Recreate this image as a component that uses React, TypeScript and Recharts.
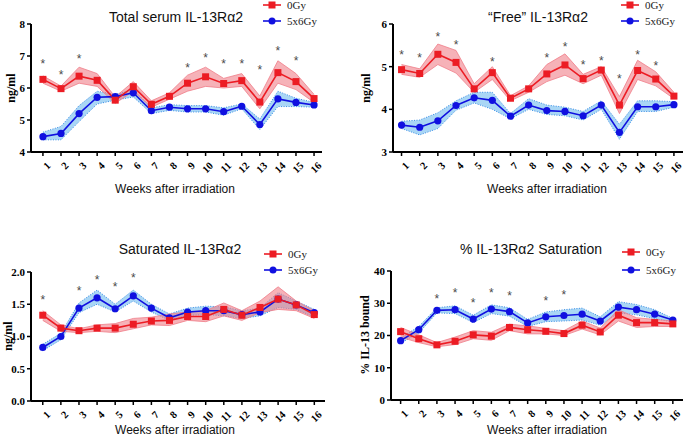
import React from 'react';
import { ComposedChart, Line, Area, Scatter, XAxis, YAxis } from 'recharts';

const weeks = [1, 2, 3, 4, 5, 6, 7, 8, 9, 10, 11, 12, 13, 14, 15, 16];
const seriesNames = ['0Gy', '5x6Gy'];

// Panel 1: Total serum IL-13Rα2
const totalRed = [6.27, 5.98, 6.37, 6.24, 5.62, 6.04, 5.49, 5.74, 6.15, 6.35, 6.14, 6.23, 5.56, 6.48, 6.2, 5.67];
const totalRedLo = [6.15, 5.9, 6.15, 6.05, 5.52, 5.9, 5.4, 5.65, 5.9, 6.05, 6.0, 6.05, 5.35, 6.15, 5.95, 5.55];
const totalRedHi = [6.38, 6.06, 6.65, 6.45, 5.72, 6.2, 5.6, 5.85, 6.4, 6.65, 6.3, 6.45, 5.75, 6.85, 6.45, 5.8];
const totalBlue = [4.48, 4.58, 5.2, 5.71, 5.73, 5.85, 5.29, 5.4, 5.35, 5.35, 5.26, 5.43, 4.86, 5.66, 5.55, 5.47];
const totalBlueLo = [4.38, 4.38, 4.95, 5.5, 5.62, 5.72, 5.2, 5.3, 5.25, 5.25, 5.15, 5.35, 4.7, 5.42, 5.42, 5.4];
const totalBlueHi = [4.62, 4.8, 5.45, 5.9, 5.8, 5.95, 5.38, 5.48, 5.45, 5.45, 5.38, 5.5, 5.03, 5.9, 5.68, 5.55];
const totalStars = [6.82, 6.5, 7.0, null, null, null, null, null, 6.7, 7.03, 6.82, 6.82, 6.65, 7.23, 6.93, null];
const totalTicks = [4, 5, 6, 7, 8];

// Panel 2: "Free" IL-13Rα2
const freeRed = [4.93, 4.84, 5.29, 5.1, 4.48, 4.86, 4.26, 4.48, 4.83, 5.04, 4.72, 4.92, 4.1, 4.91, 4.71, 4.31];
const freeRedLo = [4.82, 4.75, 5.05, 4.85, 4.4, 4.7, 4.2, 4.4, 4.65, 4.8, 4.6, 4.8, 3.9, 4.7, 4.55, 4.25];
const freeRedHi = [5.05, 4.95, 5.53, 5.38, 4.6, 5.0, 4.32, 4.55, 5.05, 5.3, 4.82, 5.0, 4.3, 5.15, 4.88, 4.4];
const freeBlue = [3.63, 3.58, 3.73, 4.09, 4.27, 4.21, 3.84, 4.1, 3.97, 3.95, 3.85, 4.1, 3.46, 4.06, 4.06, 4.11];
const freeBlueLo = [3.55, 3.4, 3.55, 3.98, 4.15, 4.0, 3.78, 4.0, 3.88, 3.85, 3.75, 4.0, 3.3, 3.95, 3.95, 4.05];
const freeBlueHi = [3.72, 3.75, 3.92, 4.2, 4.4, 4.4, 3.9, 4.25, 4.1, 4.05, 3.95, 4.2, 3.65, 4.2, 4.2, 4.18];
const freeStars = [5.34, 5.27, 5.76, 5.56, null, 5.16, null, null, 5.27, 5.51, 5.1, 5.2, 4.78, 5.34, 5.08, null];
const freeTicks = [3, 4, 5, 6];

// Panel 3: Saturated IL-13Rα2
const satRed = [1.33, 1.13, 1.09, 1.13, 1.13, 1.19, 1.24, 1.25, 1.31, 1.31, 1.42, 1.33, 1.45, 1.58, 1.49, 1.34];
const satRedLo = [1.25, 1.08, 1.06, 1.08, 1.06, 1.12, 1.18, 1.17, 1.25, 1.23, 1.32, 1.25, 1.37, 1.42, 1.4, 1.28];
const satRedHi = [1.4, 1.18, 1.12, 1.18, 1.2, 1.28, 1.3, 1.35, 1.38, 1.4, 1.52, 1.4, 1.55, 1.77, 1.55, 1.4];
const satBlue = [0.83, 1.0, 1.44, 1.6, 1.43, 1.63, 1.44, 1.29, 1.38, 1.4, 1.4, 1.34, 1.38, 1.58, 1.49, 1.37];
const satBlueLo = [0.78, 0.95, 1.37, 1.5, 1.38, 1.55, 1.38, 1.25, 1.33, 1.34, 1.32, 1.28, 1.32, 1.45, 1.42, 1.3];
const satBlueHi = [0.88, 1.05, 1.52, 1.72, 1.5, 1.72, 1.5, 1.35, 1.44, 1.47, 1.46, 1.4, 1.44, 1.68, 1.55, 1.42];
const satStars = [1.6, null, 1.74, 1.92, 1.8, 1.95, null, null, null, null, null, null, null, null, null, null];
const satTicks = [0, 0.5, 1.0, 1.5, 2.0];

// Panel 4: % IL-13Rα2 Saturation
const pctRed = [21.2, 19.0, 17.1, 18.2, 20.2, 19.8, 22.5, 21.8, 21.3, 20.6, 23.2, 21.1, 26.3, 24.0, 24.0, 23.6];
const pctRedLo = [19.5, 17.8, 16.5, 17.2, 19.0, 18.5, 21.5, 20.5, 20.5, 20.0, 22.0, 20.2, 24.5, 22.5, 22.8, 22.8];
const pctRedHi = [22.5, 20.2, 17.8, 19.5, 21.5, 21.0, 23.5, 23.0, 22.2, 21.5, 24.5, 22.3, 28.0, 25.5, 25.0, 24.5];
const pctBlue = [18.4, 21.8, 27.8, 28.0, 25.1, 28.2, 27.4, 23.9, 25.8, 26.2, 26.6, 24.5, 28.8, 28.0, 26.6, 24.8];
const pctBlueLo = [17.6, 20.8, 27.0, 26.8, 24.0, 26.8, 26.0, 22.8, 24.3, 24.5, 24.8, 23.2, 27.0, 26.4, 25.2, 24.2];
const pctBlueHi = [19.2, 22.8, 28.6, 29.2, 26.3, 29.5, 28.6, 25.0, 27.3, 28.0, 28.5, 25.8, 30.5, 29.6, 28.0, 25.3];
const pctStars = [null, null, 32.2, 34.0, 30.9, 34.0, 33.0, null, 31.4, 33.2, null, null, null, null, null, null];
const pctTicks = [0, 10, 20, 30, 40];

const RED = '#ec1c24';
const BLUE = '#1010e0';
const STAR = '#4a4a4a';
const SERIF = '"Liberation Serif", "Times New Roman", serif';
const SANS = '"Liberation Sans", Arial, sans-serif';

function buildRows(r, rLo, rHi, b, bLo, bHi, stars) {
  return weeks.map((w, i) => ({
    week: w,
    r: r[i],
    rBand: [rLo[i], rHi[i]],
    b: b[i],
    bBand: [bLo[i], bHi[i]],
    star: stars[i],
  }));
}

const XTick = (props: any) => {
  const { x, y, payload } = props;
  return (
    <g transform={`translate(${x + 3},${y + 3})`}>
      <text
        textAnchor="end"
        transform="rotate(-45)"
        dy="0.7em"
        fontFamily={SERIF}
        fontWeight="bold"
        fontSize={10.5}
        fill="#000"
      >
        {payload.value}
      </text>
    </g>
  );
};

const SquareDot = (props: any) => {
  const { cx, cy } = props;
  if (cx == null || cy == null) return null;
  return <rect x={cx - 3.5} y={cy - 3.5} width={7} height={7} fill={RED} />;
};

const CircleDot = (props: any) => {
  const { cx, cy } = props;
  if (cx == null || cy == null) return null;
  return <circle cx={cx} cy={cy} r={3.6} fill={BLUE} />;
};

const StarShape = (props: any) => {
  const { cx, cy, payload } = props;
  if (!payload || payload.star == null || cx == null || cy == null || isNaN(cy)) return null;
  return (
    <text x={cx} y={cy + 6.5} textAnchor="middle" fontFamily={SANS} fontSize={12} fill={STAR} style={{ fill: STAR }} stroke="none">
      *
    </text>
  );
};

function Panel(props: any) {
  const {
    left, top, width, height, margin, yWidth, xHeight, domainX, domainY, ticks, fmt, rows,
    title, titleX, titleY, yLabel, yLabelX, yLabelY, xLabelX, xLabelY, legX, legY1, legY2,
  } = props;
  return (
    <div style={{ position: 'absolute', left, top, width, height }}>
      <ComposedChart width={width} height={height} data={rows} margin={margin}>
        <XAxis
          dataKey="week"
          type="number"
          domain={domainX}
          ticks={weeks}
          allowDataOverflow
          interval={0}
          height={xHeight}
          tick={<XTick />}
          tickSize={4}
          axisLine={{ stroke: '#000', strokeWidth: 2 }}
          tickLine={{ stroke: '#000', strokeWidth: 1.5 }}
        />
        <YAxis
          type="number"
          domain={domainY}
          ticks={ticks}
          width={yWidth}
          tickSize={4}
          tickFormatter={fmt}
          allowDataOverflow
          axisLine={{ stroke: '#000', strokeWidth: 2 }}
          tickLine={{ stroke: '#000', strokeWidth: 1.5 }}
          tick={{ fontFamily: SERIF, fontWeight: 'bold', fontSize: 11, fill: '#000' }}
        />
        <Area
          dataKey="bBand"
          type="linear"
          fill="#8cc8f2"
          fillOpacity={0.75}
          stroke="#3a8ee6"
          strokeWidth={1}
          strokeDasharray="1 1.5"
          isAnimationActive={false}
        />
        <Area
          dataKey="rBand"
          type="linear"
          fill="#f07e89"
          fillOpacity={0.6}
          stroke="#f07e89"
          strokeWidth={0.8}
          isAnimationActive={false}
        />
        <Line dataKey="b" type="linear" stroke={BLUE} strokeWidth={1.6} dot={<CircleDot />} isAnimationActive={false} />
        <Line dataKey="r" type="linear" stroke={RED} strokeWidth={1.6} dot={<SquareDot />} isAnimationActive={false} />
        <Scatter dataKey="star" fill={STAR} shape={<StarShape />} isAnimationActive={false} />
      </ComposedChart>
      <div style={{ position: 'absolute', left: titleX - 150, top: titleY - 10, width: 300, textAlign: 'center', fontFamily: SANS, fontSize: 14, lineHeight: '20px', color: '#111', whiteSpace: 'nowrap' }}>{title}</div>
      <div style={{ position: 'absolute', left: xLabelX - 150, top: xLabelY - 9, width: 300, textAlign: 'center', fontFamily: SANS, fontSize: 12, lineHeight: '18px', color: '#111', whiteSpace: 'nowrap' }}>Weeks after irradiation</div>
      <div style={{ position: 'absolute', left: yLabelX - 100, top: yLabelY - 8, width: 200, height: 16, textAlign: 'center', fontFamily: SERIF, fontWeight: 'bold', fontSize: 12, lineHeight: '16px', transform: 'rotate(-90deg)', color: '#000', whiteSpace: 'nowrap' }}>{yLabel}</div>
      <svg style={{ position: 'absolute', left: legX, top: legY1 - 6, overflow: 'visible' }} width={60} height={30}>
        <line x1={0} y1={6} x2={18} y2={6} stroke={RED} strokeWidth={1.6} />
        <rect x={5.5} y={2.5} width={7} height={7} fill={RED} />
        <text x={24} y={10} fontFamily={SERIF} fontSize={11} fill="#222">{seriesNames[0]}</text>
        <line x1={0} y1={6 + legY2 - legY1} x2={18} y2={6 + legY2 - legY1} stroke={BLUE} strokeWidth={1.6} />
        <circle cx={9} cy={6 + legY2 - legY1} r={3.5} fill={BLUE} />
        <text x={24} y={10 + legY2 - legY1} fontFamily={SERIF} fontSize={11} fill="#222">{seriesNames[1]}</text>
      </svg>
    </div>
  );
}

export default function App() {
  const rows1 = buildRows(totalRed, totalRedLo, totalRedHi, totalBlue, totalBlueLo, totalBlueHi, totalStars);
  const rows2 = buildRows(freeRed, freeRedLo, freeRedHi, freeBlue, freeBlueLo, freeBlueHi, freeStars);
  const rows3 = buildRows(satRed, satRedLo, satRedHi, satBlue, satBlueLo, satBlueHi, satStars);
  const rows4 = buildRows(pctRed, pctRedLo, pctRedHi, pctBlue, pctBlueLo, pctBlueHi, pctStars);
  return (
    <div style={{ position: 'absolute', left: 0, top: 0, width: 685, height: 436, background: '#fff', overflow: 'hidden' }}>
      <Panel
        left={0} top={0} width={342} height={218}
        margin={{ top: 24, right: 20, left: 0, bottom: 0 }}
        yWidth={31} xHeight={66}
        domainX={[0.34, 16.44]} domainY={[4, 8]} ticks={totalTicks} fmt={(v) => String(v)}
        rows={rows1}
        title="Total serum IL-13Rα2" titleX={176} titleY={17}
        yLabel="ng/ml" yLabelX={11} yLabelY={88}
        xLabelX={175} xLabelY={189}
        legX={263} legY1={5} legY2={21}
      />
      <Panel
        left={342} top={0} width={343} height={218}
        margin={{ top: 24, right: 2, left: 0, bottom: 0 }}
        yWidth={51} xHeight={66}
        domainX={[0.53, 16.5]} domainY={[3, 6]} ticks={freeTicks} fmt={(v) => String(v)}
        rows={rows2}
        title="“Free” IL-13Rα2" titleX={196} titleY={17}
        yLabel="ng/ml" yLabelX={24} yLabelY={88}
        xLabelX={205} xLabelY={189}
        legX={279} legY1={5} legY2={21}
      />
      <Panel
        left={0} top={218} width={342} height={218}
        margin={{ top: 54, right: 17, left: 0, bottom: 0 }}
        yWidth={31} xHeight={35}
        domainX={[0.35, 16.59]} domainY={[0, 2]} ticks={satTicks} fmt={(v) => v.toFixed(1)}
        rows={rows3}
        title="Saturated IL-13Rα2" titleX={180} titleY={31}
        yLabel="ng/ml" yLabelX={8} yLabelY={118}
        xLabelX={175} xLabelY={212}
        legX={264} legY1={36} legY2={52}
      />
      <Panel
        left={342} top={218} width={343} height={218}
        margin={{ top: 53, right: 2, left: 0, bottom: 0 }}
        yWidth={49} xHeight={36}
        domainX={[0.47, 16.56]} domainY={[0, 40]} ticks={pctTicks} fmt={(v) => String(v)}
        rows={rows4}
        title="% IL-13Rα2 Saturation" titleX={189} titleY={31}
        yLabel="% IL-13 bound" yLabelX={23} yLabelY={117}
        xLabelX={205} xLabelY={212}
        legX={280} legY1={34} legY2={52}
      />
    </div>
  );
}
